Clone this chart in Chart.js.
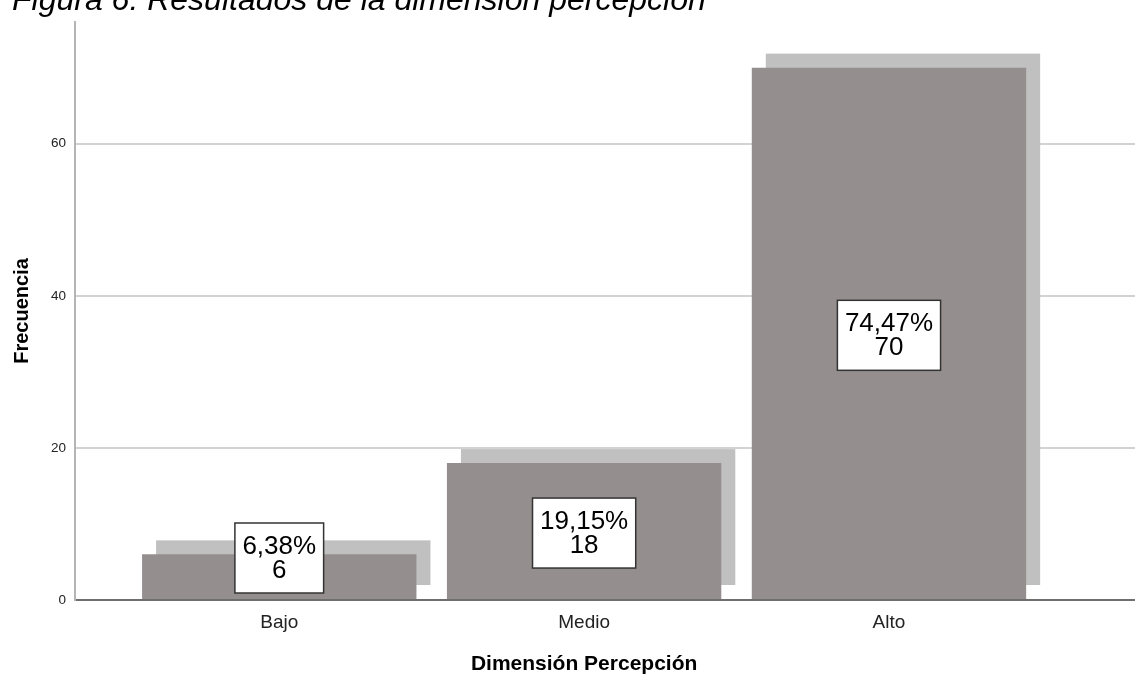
<!DOCTYPE html>
<html>
<head>
<meta charset="utf-8">
<script src="https://cdn.jsdelivr.net/npm/chart.js@4/dist/chart.umd.min.js"></script>
<style>
  html, body { margin: 0; padding: 0; background: #fff; overflow: hidden; }
  #wrap { position: relative; width: 1135px; height: 675px; }
  #titulo {
    position: absolute; left: 12px; top: -17px;
    font: italic 32px "Liberation Sans", Arial, sans-serif;
    color: #000; white-space: nowrap; line-height: 32px;
  }
  canvas { position: absolute; left: 0; top: 0; }
</style>
</head>
<body>
<div id="wrap">
  <canvas id="barchart" width="1135" height="675"></canvas>
  <div id="titulo">Figura 6. Resultados de la dimensión percepción</div>
</div>
<script>
// niveles y frecuencias
var categorias = ['Bajo', 'Medio', 'Alto'];
var frecuencias = [6, 18, 70];
var ticksY = [0, 20, 40, 60];
var tituloX = 'Dimensión Percepción';

var total = frecuencias.reduce(function (a, b) { return a + b; }, 0);
var puntos = [];
for (var i = 0; i < categorias.length; i++) {
    puntos.push({ x: i, y: frecuencias[i] });
}

var FUENTE = '"Liberation Sans", Arial, sans-serif';
var SOMBRA = 14;

// bloque gris claro desplazado detras de cada barra
var sombraBarras = {
    id: 'sombraBarras',
    beforeDatasetsDraw: function (chart) {
        var ctx = chart.ctx;
        var meta = chart.getDatasetMeta(0);
        ctx.save();
        ctx.fillStyle = '#c0c0c0';
        meta.data.forEach(function (bar) {
            var w = bar.width;
            ctx.fillRect(bar.x - w / 2 + SOMBRA, bar.y - SOMBRA, w, bar.base - bar.y);
        });
        ctx.restore();
    }
};

// caja blanca con porcentaje y frecuencia, y titulo del eje x bajo la categoria central
var etiquetas = {
    id: 'etiquetas',
    afterDatasetsDraw: function (chart) {
        var ctx = chart.ctx;
        var meta = chart.getDatasetMeta(0);
        var lineH = 24;
        ctx.save();
        ctx.font = '26px ' + FUENTE;
        ctx.textAlign = 'center';
        ctx.textBaseline = 'middle';
        meta.data.forEach(function (bar, idx) {
            var v = frecuencias[idx];
            var pct = (v / total * 100).toFixed(2).replace('.', ',') + '%';
            var linea2 = String(v);
            var tw = Math.max(ctx.measureText(pct).width, ctx.measureText(linea2).width);
            var bw = tw + 15;
            var bh = 70;
            var cx = bar.x;
            var cy = (bar.y + bar.base) / 2 + 2;
            if (cy + bh / 2 > bar.base - 6) cy = bar.base - 6 - bh / 2;
            ctx.fillStyle = '#ffffff';
            ctx.fillRect(cx - bw / 2, cy - bh / 2, bw, bh);
            ctx.strokeStyle = '#333333';
            ctx.lineWidth = 1.5;
            ctx.strokeRect(cx - bw / 2, cy - bh / 2, bw, bh);
            ctx.fillStyle = '#000000';
            ctx.fillText(pct, cx, cy - lineH / 2 + 1);
            ctx.fillText(linea2, cx, cy + lineH / 2 + 1);
        });

        var xs = chart.scales.x;
        ctx.font = 'bold 21px ' + FUENTE;
        ctx.fillStyle = '#000';
        ctx.fillText(tituloX, xs.getPixelForValue(1), xs.bottom - 11);
        ctx.restore();
    }
};

var ctx = document.getElementById('barchart').getContext('2d');
var chart = new Chart(ctx, {
    type: 'bar',
    data: {
        datasets: [{
            label: 'Frecuencia',
            data: puntos,
            backgroundColor: '#948f8e',
            borderWidth: 0,
            barPercentage: 1,
            categoryPercentage: 0.9
        }]
    },
    options: {
        responsive: false,
        animation: false,
        layout: { padding: { top: 22, left: 0, right: 0, bottom: 0 } },
        plugins: {
            legend: { display: false },
            tooltip: { enabled: false }
        },
        scales: {
            x: {
                type: 'linear',
                offset: false,
                min: -0.67,
                max: 2.807,
                afterBuildTicks: function (scale) {
                    scale.ticks = categorias.map(function (c, k) { return { value: k }; });
                },
                afterFit: function (scale) { scale.height = 75; },
                ticks: {
                    padding: 11,
                    color: '#222',
                    font: { family: FUENTE, size: 19 },
                    callback: function (value) { return categorias[value]; }
                },
                grid: { display: false, drawTicks: false },
                border: { display: true, color: '#6e6e6e', width: 2 },
                title: { display: false }
            },
            y: {
                min: 0,
                max: 76,
                afterBuildTicks: function (scale) {
                    scale.ticks = ticksY.map(function (t) { return { value: t }; });
                },
                afterFit: function (scale) { scale.width = 75; },
                ticks: {
                    padding: 9,
                    color: '#222',
                    font: { family: FUENTE, size: 13.5 }
                },
                grid: {
                    drawTicks: false,
                    color: function (c) { return c.tick && c.tick.value === 0 ? 'rgba(0,0,0,0)' : '#d2d2d2'; },
                    lineWidth: 2
                },
                border: { display: true, color: '#b4b4b4', width: 2 },
                title: {
                    display: true,
                    text: 'Frecuencia',
                    color: '#000',
                    font: { family: FUENTE, size: 20, weight: 'bold', lineHeight: 1 },
                    padding: { top: 12, bottom: 0 }
                }
            }
        }
    },
    plugins: [sombraBarras, etiquetas]
});
</script>
</body>
</html>
